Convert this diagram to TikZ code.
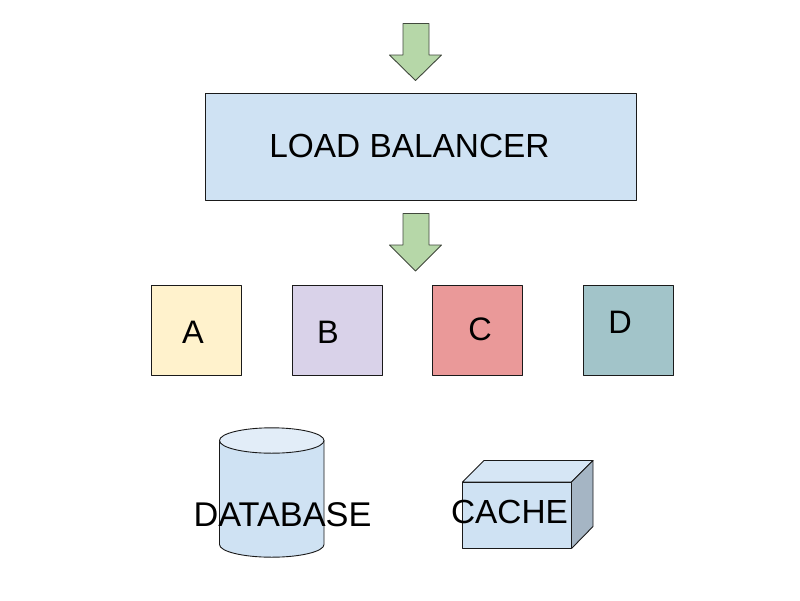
\documentclass[tikz,border=0pt]{standalone}
\usepackage{fontspec}
\setmainfont{Liberation Sans}
\definecolor{lbblue}{HTML}{CFE2F3}
\definecolor{toplight}{HTML}{E2EDF8}
\definecolor{cubeside}{HTML}{A5B5C4}
\definecolor{cubetop}{HTML}{D6E6F5}
\definecolor{arrowgreen}{HTML}{B6D7A8}
\definecolor{boxa}{HTML}{FFF2CC}
\definecolor{boxb}{HTML}{D9D2E9}
\definecolor{boxc}{HTML}{EA9999}
\definecolor{boxd}{HTML}{A2C4C9}
\definecolor{edge}{HTML}{1A1A1A}
\tikzset{
  shapeline/.style={draw=edge,line width=0.9pt,line join=round},
  blockbox/.style={shapeline,minimum width=90pt,minimum height=90pt,inner sep=0pt,outer sep=0pt,anchor=north west},
  labeltext/.style={inner sep=0pt,font=\fontsize{32.5}{38}\selectfont,text=black},
  biglabel/.style={inner sep=0pt,font=\fontsize{33.4}{40}\selectfont,text=black},
  greenarrow/.style={shapeline,fill=arrowgreen,draw=edge!75!arrowgreen},
}
\begin{document}
\begin{tikzpicture}[x=1pt,y=-1pt]
\useasboundingbox (0,0) rectangle (800,600);
\fill[white] (0,0) rectangle (800,600);
% top arrow
\draw[greenarrow] (403,23.5) -- (429,23.5) -- (429,55) -- (441.5,55) -- (415.5,80.5) -- (389.5,55) -- (403,55) -- cycle;
% load balancer
\node[shapeline,fill=lbblue,minimum width=431pt,minimum height=107pt,inner sep=0pt,outer sep=0pt,anchor=north west] (lb) at (205.5,93.5) {};
\node[biglabel] (lbtext) at (409.5,146) {LOAD BALANCER};
% lower arrow
\draw[greenarrow] (403,213.5) -- (429,213.5) -- (429,245) -- (441.5,245) -- (415.5,271) -- (389.5,245) -- (403,245) -- cycle;
% boxes
\node[blockbox,fill=boxa] (a) at (151.5,285.5) {};
\node[blockbox,fill=boxb] (b) at (292.5,285.5) {};
\node[blockbox,fill=boxc] (c) at (432.5,285.5) {};
\node[blockbox,fill=boxd] (d) at (583.5,285.5) {};
\node[labeltext] (atext) at (193,332) {A};
\node[labeltext] (btext) at (328,332) {B};
\node[labeltext] (ctext) at (480,329) {C};
\node[labeltext] (dtext) at (620,322) {D};
% database
\draw[shapeline,fill=lbblue] (219.5,440.5) -- (219.5,544.5) arc[start angle=180,end angle=360,x radius=52.25pt,y radius=12.7pt] -- (324,440.5) -- cycle;
\draw[shapeline,fill=toplight] (271.75,440.5) ellipse[x radius=52.25pt,y radius=12.7pt];
\node[inner sep=0pt,font=\fontsize{34.3}{40}\selectfont] (dbtext) at (282.5,515) {DATABASE};
% cache
\draw[shapeline,fill=cubetop] (462.5,482) -- (484,460.5) -- (593,460.5) -- (571.5,482) -- cycle;
\draw[shapeline,fill=cubeside] (571.5,482) -- (593,460.5) -- (593,526.5) -- (571.5,548.5) -- cycle;
\draw[shapeline,fill=lbblue] (462.5,482) rectangle (571.5,548.5);
\node[biglabel] (cachetext) at (509.5,512) {CACHE};
\end{tikzpicture}
\end{document}
